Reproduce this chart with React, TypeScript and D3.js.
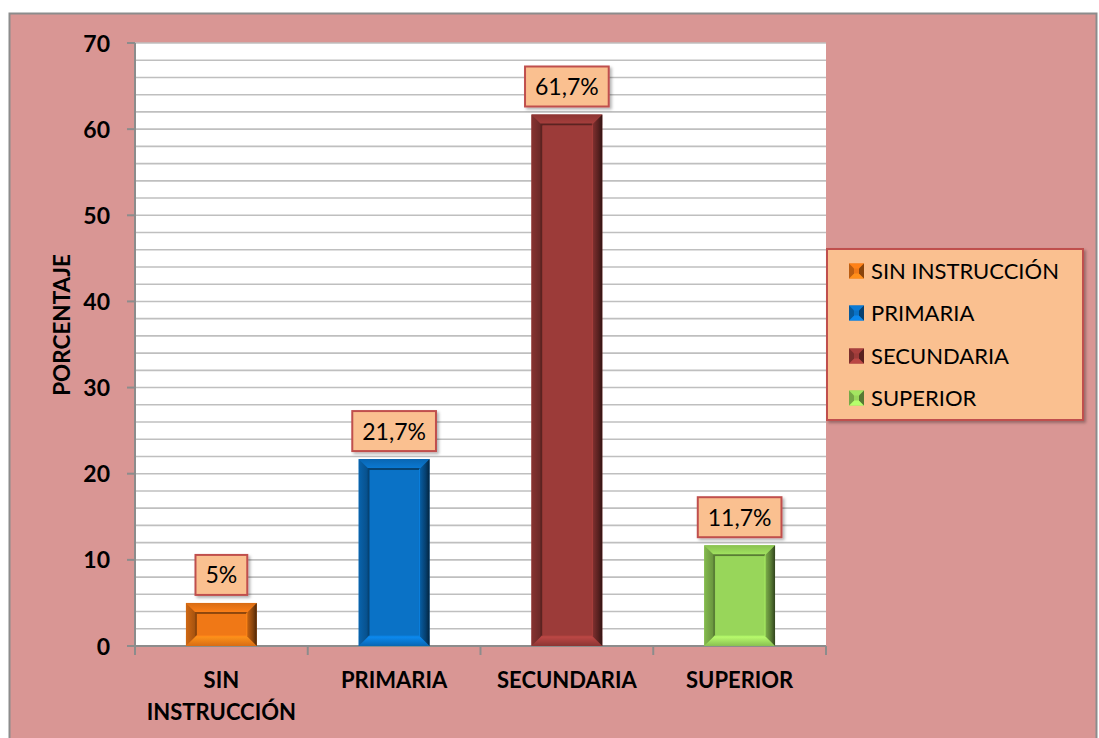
import React, { useEffect, useRef } from "react";
import * as d3 from "d3";

const categories = ["SIN INSTRUCCIÓN", "PRIMARIA", "SECUNDARIA", "SUPERIOR"];
const categoryLines = [["SIN", "INSTRUCCIÓN"], ["PRIMARIA"], ["SECUNDARIA"], ["SUPERIOR"]];
const values = [5, 21.7, 61.7, 11.7];
const valueLabels = ["5%", "21,7%", "61,7%", "11,7%"];
const barColors = ["#F07816", "#0A72C6", "#9C3B39", "#98D65A"];
const yTicks = [0, 10, 20, 30, 40, 50, 60, 70];
const yMinorTicks = d3.range(0, 71, 2);
const yTitle = "PORCENTAJE";

const W = 1099;
const H = 738;
const FONT = "Lato, 'Open Sans', sans-serif";

export default function App() {
  const ref = useRef<SVGSVGElement | null>(null);

  useEffect(() => {
    const svg = d3.select(ref.current);
    svg.selectAll("*").remove();

    const plot = { x0: 135, x1: 826, y0: 43, y1: 646 };
    const x = d3.scaleBand<string>().domain(categories).range([plot.x0, plot.x1]).paddingInner(0.59).paddingOuter(0.295);
    const y = d3.scaleLinear().domain([0, 70]).range([plot.y1, plot.y0]);

    const defs = svg.append("defs");
    const shadow = defs.append("filter").attr("id", "sh").attr("x", "-10%").attr("y", "-10%").attr("width", "130%").attr("height", "130%");
    shadow.append("feDropShadow").attr("dx", 2).attr("dy", 2).attr("stdDeviation", 1.5).attr("flood-color", "#000").attr("flood-opacity", 0.3);

    // outer chart background
    svg.append("rect").attr("x", 0).attr("y", 0).attr("width", W).attr("height", H).attr("fill", "#fff");
    svg.append("rect").attr("x", 9.5).attr("y", 13.5).attr("width", 1087).attr("height", 740)
      .attr("fill", "#D99694").attr("stroke", "#8C8C8C").attr("stroke-width", 2);

    // plot area
    svg.append("rect").attr("x", plot.x0).attr("y", plot.y0).attr("width", plot.x1 - plot.x0).attr("height", plot.y1 - plot.y0).attr("fill", "#fff");

    // gridlines
    svg.append("g").selectAll("line").data(yMinorTicks.filter(d => d > 0)).join("line")
      .attr("x1", plot.x0).attr("x2", plot.x1)
      .attr("y1", d => y(d)).attr("y2", d => y(d))
      .attr("stroke", "#BFBFBF").attr("stroke-width", 1.6);

    // y axis
    svg.append("line").attr("x1", plot.x0).attr("x2", plot.x0).attr("y1", plot.y0).attr("y2", plot.y1 + 8)
      .attr("stroke", "#8C8C8C").attr("stroke-width", 2);
    svg.append("g").selectAll("line").data(yTicks).join("line")
      .attr("x1", plot.x0 - 8).attr("x2", plot.x0)
      .attr("y1", d => y(d)).attr("y2", d => y(d))
      .attr("stroke", "#8C8C8C").attr("stroke-width", 2);
    svg.append("g").selectAll("text").data(yTicks).join("text")
      .attr("x", 110).attr("y", d => y(d) + 8.5)
      .attr("text-anchor", "end").attr("font-family", FONT).attr("font-weight", 700).attr("font-size", 23)
      .attr("fill", "#000").text(d => String(d));

    // x axis
    svg.append("line").attr("x1", plot.x0).attr("x2", plot.x1).attr("y1", plot.y1).attr("y2", plot.y1)
      .attr("stroke", "#8C8C8C").attr("stroke-width", 2);
    const step = x.step();
    const boundaries = d3.range(categories.length + 1).map(i => plot.x0 + i * step);
    svg.append("g").selectAll("line").data(boundaries).join("line")
      .attr("x1", d => d).attr("x2", d => d).attr("y1", plot.y1).attr("y2", plot.y1 + 9)
      .attr("stroke", "#8C8C8C").attr("stroke-width", 2);

    categories.forEach((c, i) => {
      const cx = (x(c) as number) + x.bandwidth() / 2;
      const t = svg.append("text").attr("text-anchor", "middle").attr("font-family", FONT).attr("font-weight", 700)
        .attr("font-size", 22).attr("fill", "#000");
      categoryLines[i].forEach((ln, j) => {
        t.append("tspan").attr("x", cx).attr("y", 688 + j * 32).text(ln);
      });
    });

    // y title
    svg.append("text").attr("transform", "translate(70,325) rotate(-90)").attr("text-anchor", "middle")
      .attr("font-family", FONT).attr("font-weight", 700).attr("font-size", 22.5).attr("fill", "#000").text(yTitle);

    // bevel bars
    const bevel = (g: any, bx: number, by: number, bw: number, bh: number, color: string, b: number, idx: string) => {
      const base = d3.color(color)!;
      const grad = defs.append("linearGradient").attr("id", "rg" + idx).attr("x1", "0").attr("x2", "1").attr("y1", "0").attr("y2", "0");
      grad.append("stop").attr("offset", "0").attr("stop-color", base.darker(0.5).formatHex());
      grad.append("stop").attr("offset", "0.6").attr("stop-color", base.darker(1.6).formatHex());
      grad.append("stop").attr("offset", "1").attr("stop-color", base.darker(3.2).formatHex());
      const gl = defs.append("linearGradient").attr("id", "lg" + idx).attr("x1", "0").attr("x2", "1").attr("y1", "0").attr("y2", "0");
      gl.append("stop").attr("offset", "0").attr("stop-color", base.darker(0.4).formatHex());
      gl.append("stop").attr("offset", "1").attr("stop-color", base.darker(1.1).formatHex());
      const gt = defs.append("linearGradient").attr("id", "tg" + idx).attr("x1", "0").attr("x2", "0").attr("y1", "0").attr("y2", "1");
      gt.append("stop").attr("offset", "0").attr("stop-color", base.darker(0.3).formatHex());
      gt.append("stop").attr("offset", "1").attr("stop-color", base.brighter(0.2).formatHex());
      const gb = defs.append("linearGradient").attr("id", "bg" + idx).attr("x1", "0").attr("x2", "0").attr("y1", "0").attr("y2", "1");
      gb.append("stop").attr("offset", "0").attr("stop-color", base.brighter(0.6).formatHex());
      gb.append("stop").attr("offset", "1").attr("stop-color", base.darker(0.3).formatHex());
      const poly = (pts: number[][], fill: string) => g.append("polygon").attr("points", pts.map(p => p.join(",")).join(" ")).attr("fill", fill);
      g.append("rect").attr("x", bx).attr("y", by).attr("width", bw).attr("height", bh).attr("fill", color);
      poly([[bx, by], [bx + bw, by], [bx + bw - b, by + b], [bx + b, by + b]], `url(#tg${idx})`);
      poly([[bx, by + bh], [bx + bw, by + bh], [bx + bw - b, by + bh - b], [bx + b, by + bh - b]], `url(#bg${idx})`);
      poly([[bx, by], [bx + b, by + b], [bx + b, by + bh - b], [bx, by + bh]], `url(#lg${idx})`);
      poly([[bx + bw, by], [bx + bw - b, by + b], [bx + bw - b, by + bh - b], [bx + bw, by + bh]], `url(#rg${idx})`);
      // inner shadow lines
      g.append("path").attr("d", `M${bx + b},${by + bh - b} L${bx + b},${by + b} L${bx + bw - b},${by + b}`)
        .attr("fill", "none").attr("stroke", base.darker(1.5).formatHex()).attr("stroke-width", 2);
      g.append("path").attr("d", `M${bx + b},${by + bh - b} L${bx + bw - b},${by + bh - b} L${bx + bw - b},${by + b}`)
        .attr("fill", "none").attr("stroke", base.brighter(0.3).formatHex()).attr("stroke-width", 1);
      g.append("rect").attr("x", bx + b + 1).attr("y", by + b + 1).attr("width", Math.max(0, bw - 2 * b - 2)).attr("height", Math.max(0, bh - 2 * b - 2)).attr("fill", color);
    };

    categories.forEach((c, i) => {
      const bx = x(c) as number;
      const by = y(values[i]);
      const bh = plot.y1 - by;
      bevel(svg.append("g"), bx, by, x.bandwidth(), bh, barColors[i], 10, String(i));
    });

    // data labels
    categories.forEach((c, i) => {
      const cx = (x(c) as number) + x.bandwidth() / 2;
      const by = y(values[i]);
      const g = svg.append("g");
      const rect = g.append("rect");
      const t = g.append("text").attr("x", cx).attr("y", by - 8 - 20 + 8.5).attr("text-anchor", "middle")
        .attr("font-family", FONT).attr("font-size", 23).attr("fill", "#000").text(valueLabels[i]);
      const tw = (t.node() as SVGTextElement).getComputedTextLength();
      const bw = tw + 20;
      rect.attr("x", cx - bw / 2).attr("y", by - 8 - 40).attr("width", bw).attr("height", 40)
        .attr("fill", "#FAC090").attr("stroke", "#C0504D").attr("stroke-width", 2).attr("filter", "url(#sh)");
    });

    // legend
    const lg = svg.append("g");
    lg.append("rect").attr("x", 827).attr("y", 249).attr("width", 256).attr("height", 171)
      .attr("fill", "#FAC090").attr("stroke", "#C0504D").attr("stroke-width", 2).attr("filter", "url(#sh)");
    const rows = [271, 313, 356, 398];
    categories.forEach((c, i) => {
      const base = d3.color(barColors[i])!;
      const mx = 849, my = rows[i] - 7.5, s = 15, b = 5;
      const poly = (pts: number[][], fill: string) => lg.append("polygon").attr("points", pts.map(p => p.join(",")).join(" ")).attr("fill", fill);
      lg.append("rect").attr("x", mx).attr("y", my).attr("width", s).attr("height", s).attr("fill", barColors[i]);
      poly([[mx, my], [mx + s, my], [mx + s - b, my + b], [mx + b, my + b]], base.brighter(0.2).formatHex());
      poly([[mx, my + s], [mx + s, my + s], [mx + s - b, my + s - b], [mx + b, my + s - b]], base.brighter(0.5).formatHex());
      poly([[mx, my], [mx + b, my + b], [mx + b, my + s - b], [mx, my + s]], base.darker(0.7).formatHex());
      poly([[mx + s, my], [mx + s - b, my + b], [mx + s - b, my + s - b], [mx + s, my + s]], base.darker(1.6).formatHex());
      lg.append("text").attr("x", 871).attr("y", rows[i] + 8).attr("font-family", FONT).attr("font-size", 22)
        .attr("fill", "#000").text(c);
    });
  }, []);

  return (
    <svg ref={ref} width={W} height={H} style={{ position: "absolute", left: 0, top: 0, display: "block" }} />
  );
}
